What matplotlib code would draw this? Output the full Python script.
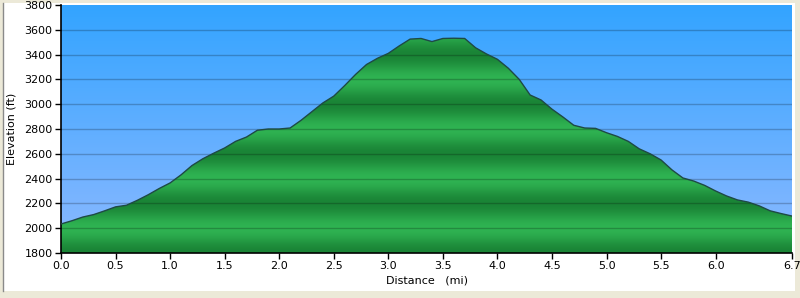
import numpy as np
import matplotlib.pyplot as plt
from matplotlib.colors import LinearSegmentedColormap
from matplotlib.patches import Rectangle

# profile
distance = [0.0, 0.1, 0.2, 0.3, 0.4, 0.5, 0.6, 0.7, 0.8, 0.9,
            1.0, 1.1, 1.2, 1.3, 1.4, 1.5, 1.6, 1.7, 1.8, 1.9,
            2.0, 2.1, 2.2, 2.3, 2.4, 2.5, 2.6, 2.7, 2.8, 2.9,
            3.0, 3.1, 3.2, 3.3, 3.4, 3.5, 3.6, 3.7, 3.8, 3.9,
            4.0, 4.1, 4.2, 4.3, 4.4, 4.5, 4.6, 4.7, 4.8, 4.9,
            5.0, 5.1, 5.2, 5.3, 5.4, 5.5, 5.6, 5.7, 5.8, 5.9,
            6.0, 6.1, 6.2, 6.3, 6.4, 6.5, 6.6, 6.7]
elevation = [2034, 2060, 2090, 2110, 2140, 2172, 2185, 2225, 2270, 2320,
             2365, 2430, 2505, 2560, 2605, 2647, 2700, 2735, 2790, 2800,
             2800, 2808, 2870, 2940, 3010, 3065, 3150, 3240, 3320, 3370,
             3410, 3470, 3525, 3530, 3505, 3530, 3532, 3530, 3455, 3405,
             3362, 3290, 3200, 3074, 3034, 2960, 2897, 2830, 2808, 2805,
             2770, 2740, 2700, 2640, 2600, 2550, 2470, 2405, 2380, 2345,
             2300, 2260, 2228, 2210, 2180, 2140, 2118, 2098]

x_ticks = [0.0, 0.5, 1.0, 1.5, 2.0, 2.5, 3.0, 3.5, 4.0, 4.5, 5.0, 5.5, 6.0, 6.7]
y_ticks = [1800, 2000, 2200, 2400, 2600, 2800, 3000, 3200, 3400, 3600, 3800]

fig = plt.figure(figsize=(8, 2.98), dpi=100)
fig.patch.set_facecolor('#ECE9D8')

# white panel with grey left edge
fig.patches.append(Rectangle((3 / 800, 1 - 291 / 298), 792 / 800, 288 / 298,
                             transform=fig.transFigure, facecolor='white',
                             edgecolor='none', zorder=-10))
fig.add_artist(plt.Line2D([2.5 / 800, 2.5 / 800], [1 - 291 / 298, 1 - 3 / 298],
                          transform=fig.transFigure, color='#8a8a8a', lw=1,
                          zorder=-9))

ax = fig.add_axes([61 / 800, 1 - 253 / 298, 731 / 800, 248 / 298])
ax.set_zorder(1)
x0, x1 = 0.0, 6.7
y0, y1 = 1800, 3800

# blue sky gradient
sky = LinearSegmentedColormap.from_list('sky', ['#8DB9FF', '#33A4FF'])
grad = np.linspace(0, 1, 256).reshape(-1, 1)
ax.imshow(grad, aspect='auto', cmap=sky, origin='lower',
          extent=[x0, x1, y0, y1], zorder=0)

# green banded fill, dark at 2200+400k, light at 2000+400k
yy = np.linspace(y0, y1, 600)
band = 0.5 + 0.5 * np.cos((yy - 2000) / 400 * 2 * np.pi)
green = LinearSegmentedColormap.from_list('grn', ['#1A8436', '#2FB352'])
img = ax.imshow(band.reshape(-1, 1), aspect='auto', cmap=green, origin='lower',
                extent=[x0, x1, y0, y1], zorder=1)
poly = ax.fill_between(distance, elevation, y0, color='none')
path = poly.get_paths()[0]
img.set_clip_path(path, transform=ax.transData)

ax.plot(distance, elevation, color='#1E4A45', lw=1, zorder=3)

for y in y_ticks[1:-1]:
    ax.axhline(y, color='black', alpha=0.22, lw=1, zorder=2)

ax.set_xlim(x0, x1)
ax.set_ylim(y0, y1)
ax.set_xticks(x_ticks)
ax.set_xticklabels([f'{t:.1f}' for t in x_ticks])
ax.set_yticks(y_ticks)
ax.tick_params(labelsize=8, length=4, width=1, pad=2)
for s in ['top', 'right']:
    ax.spines[s].set_visible(False)
ax.spines['left'].set_linewidth(1.2)
ax.spines['bottom'].set_linewidth(1.2)

ax.set_ylabel('Elevation (ft)', fontsize=8, labelpad=6)
ax.set_xlabel('Distance   (mi)', fontsize=8, labelpad=3)

fig.savefig('out.png', dpi=100, facecolor=fig.get_facecolor())
